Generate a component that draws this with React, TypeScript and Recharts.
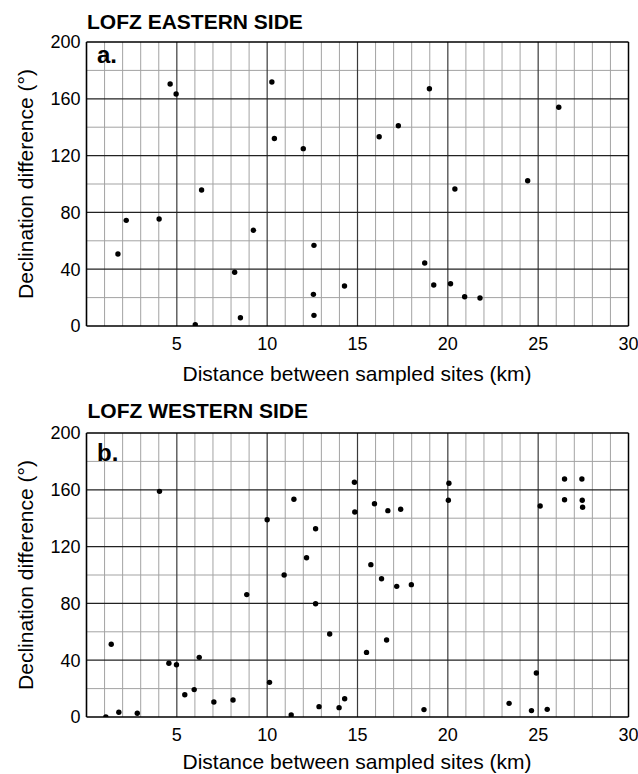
import React from 'react';
import { ScatterChart, Scatter, XAxis, YAxis, ReferenceLine } from 'recharts';

const eastDistance = [1.74, 2.2, 4.02, 4.63, 4.96, 6.02, 6.37, 8.2, 8.52, 9.24, 10.26, 10.4, 12.0, 12.59, 12.56, 12.59, 14.28, 16.2, 17.26, 18.72, 18.98, 19.22, 20.15, 20.39, 20.93, 21.78, 24.42, 26.14];
const eastDeclination = [50.7, 74.4, 75.4, 170.4, 163.4, 0.9, 95.8, 37.8, 5.8, 67.4, 171.8, 132, 124.9, 56.8, 22.3, 7.5, 28.2, 133.3, 141, 44.4, 167.1, 28.9, 29.8, 96.5, 20.6, 19.7, 102.3, 154];

const westDistance = [1.07, 1.37, 1.79, 2.81, 4.04, 4.56, 4.98, 5.44, 5.96, 6.24, 7.05, 8.11, 8.87, 10.0, 10.13, 10.94, 11.33, 11.48, 12.18, 12.68, 12.68, 12.87, 13.46, 13.98, 14.29, 14.83, 14.85, 15.5, 15.74, 15.94, 16.33, 16.61, 16.68, 17.17, 17.39, 17.98, 18.68, 20.03, 20.06, 23.39, 24.63, 24.9, 25.11, 25.5, 26.46, 26.46, 27.42, 27.44, 27.46];
const westDeclination = [0, 51.2, 3.3, 2.6, 158.9, 37.8, 36.8, 15.7, 19.3, 42, 10.6, 12, 86.2, 138.9, 24.4, 100, 1.4, 153.3, 112.2, 132.6, 79.8, 7.3, 58.5, 6.6, 12.9, 165.3, 144.4, 45.5, 107.3, 150.2, 97.4, 54.2, 145.3, 92, 146.3, 93.2, 5.2, 152.6, 164.6, 9.6, 4.5, 31, 148.6, 5.4, 167.6, 153, 167.6, 152.6, 147.7];

const xTicks = [5, 10, 15, 20, 25, 30];
const yTicks = [0, 40, 80, 120, 160, 200];
const xMinor = [1, 2, 3, 4, 6, 7, 8, 9, 11, 12, 13, 14, 16, 17, 18, 19, 21, 22, 23, 24, 26, 27, 28, 29];
const yMinor = [20, 60, 100, 140, 180];
const xMajor = [5, 10, 15, 20, 25];
const yMajor = [40, 80, 120, 160];

const FONT = '"Liberation Sans", Arial, Helvetica, sans-serif';

const toPoints = (xs: number[], ys: number[]) => xs.map((x, i) => ({ x, y: ys[i] }));

const Dot = (props: any) => <circle cx={props.cx} cy={props.cy} r={2.7} fill="#000" />;

function Panel({ data, height, top, bottom }: { data: { x: number; y: number }[]; height: number; top: number; bottom: number }) {
  return (
    <ScatterChart width={638} height={height} margin={{ top, right: 9.5, bottom, left: 26.5 }}>
      {xMinor.map((v) => (
        <ReferenceLine key={'xm' + v} x={v} stroke="#a3a3a3" strokeWidth={1} />
      ))}
      {yMinor.map((v) => (
        <ReferenceLine key={'ym' + v} y={v} stroke="#a3a3a3" strokeWidth={1} />
      ))}
      {xMajor.map((v) => (
        <ReferenceLine key={'xM' + v} x={v} stroke="#3a3a3a" strokeWidth={1.2} />
      ))}
      {yMajor.map((v) => (
        <ReferenceLine key={'yM' + v} y={v} stroke="#222" strokeWidth={1.2} />
      ))}
      <ReferenceLine x={30} stroke="#000" strokeWidth={1.5} />
      <ReferenceLine y={200} stroke="#000" strokeWidth={1.5} />
      <XAxis
        type="number"
        dataKey="x"
        domain={[0, 30]}
        ticks={xTicks}
        tickLine={false}
        tickSize={6}
        tickMargin={5}
        height={30}
        axisLine={{ stroke: '#000', strokeWidth: 1.6 }}
        tick={{ fill: '#000', fontSize: 18, fontFamily: FONT }}
        allowDataOverflow
      />
      <YAxis
        type="number"
        dataKey="y"
        domain={[0, 200]}
        ticks={yTicks}
        tickLine={false}
        tickSize={6}
        tickMargin={0}
        width={60}
        axisLine={{ stroke: '#000', strokeWidth: 1.6 }}
        tick={{ fill: '#000', fontSize: 18, fontFamily: FONT }}
        allowDataOverflow
      />
      <Scatter data={data} shape={Dot} isAnimationActive={false} />
    </ScatterChart>
  );
}

export default function App() {
  const east = toPoints(eastDistance, eastDeclination);
  const west = toPoints(westDistance, westDeclination);
  return (
    <div style={{ position: 'absolute', left: 0, top: 0, width: 638, height: 774, background: '#fff' }}>
      <div style={{ position: 'absolute', left: 0, top: 0 }}>
        <Panel data={east} height={390} top={42} bottom={34} />
      </div>
      <div style={{ position: 'absolute', left: 0, top: 390 }}>
        <Panel data={west} height={384} top={43} bottom={27} />
      </div>
      <svg width={638} height={774} style={{ position: 'absolute', left: 0, top: 0, pointerEvents: 'none' }}>
        <g fontFamily={FONT} fill="#000">
          <text x={87} y={28.5} fontSize={21} fontWeight="bold">LOFZ EASTERN SIDE</text>
          <text x={97} y={62.5} fontSize={24} fontWeight="bold">a.</text>
          <text x={357} y={380.5} fontSize={21} textAnchor="middle">Distance between sampled sites (km)</text>
          <text x={33} y={184} fontSize={21} textAnchor="middle" transform="rotate(-90 33 184)">Declination difference (°)</text>

          <text x={87.5} y={418.3} fontSize={21} fontWeight="bold">LOFZ WESTERN SIDE</text>
          <text x={97} y={461} fontSize={24} fontWeight="bold">b.</text>
          <text x={357} y={769} fontSize={21} textAnchor="middle">Distance between sampled sites (km)</text>
          <text x={33} y={575} fontSize={21} textAnchor="middle" transform="rotate(-90 33 575)">Declination difference (°)</text>
        </g>
      </svg>
    </div>
  );
}
